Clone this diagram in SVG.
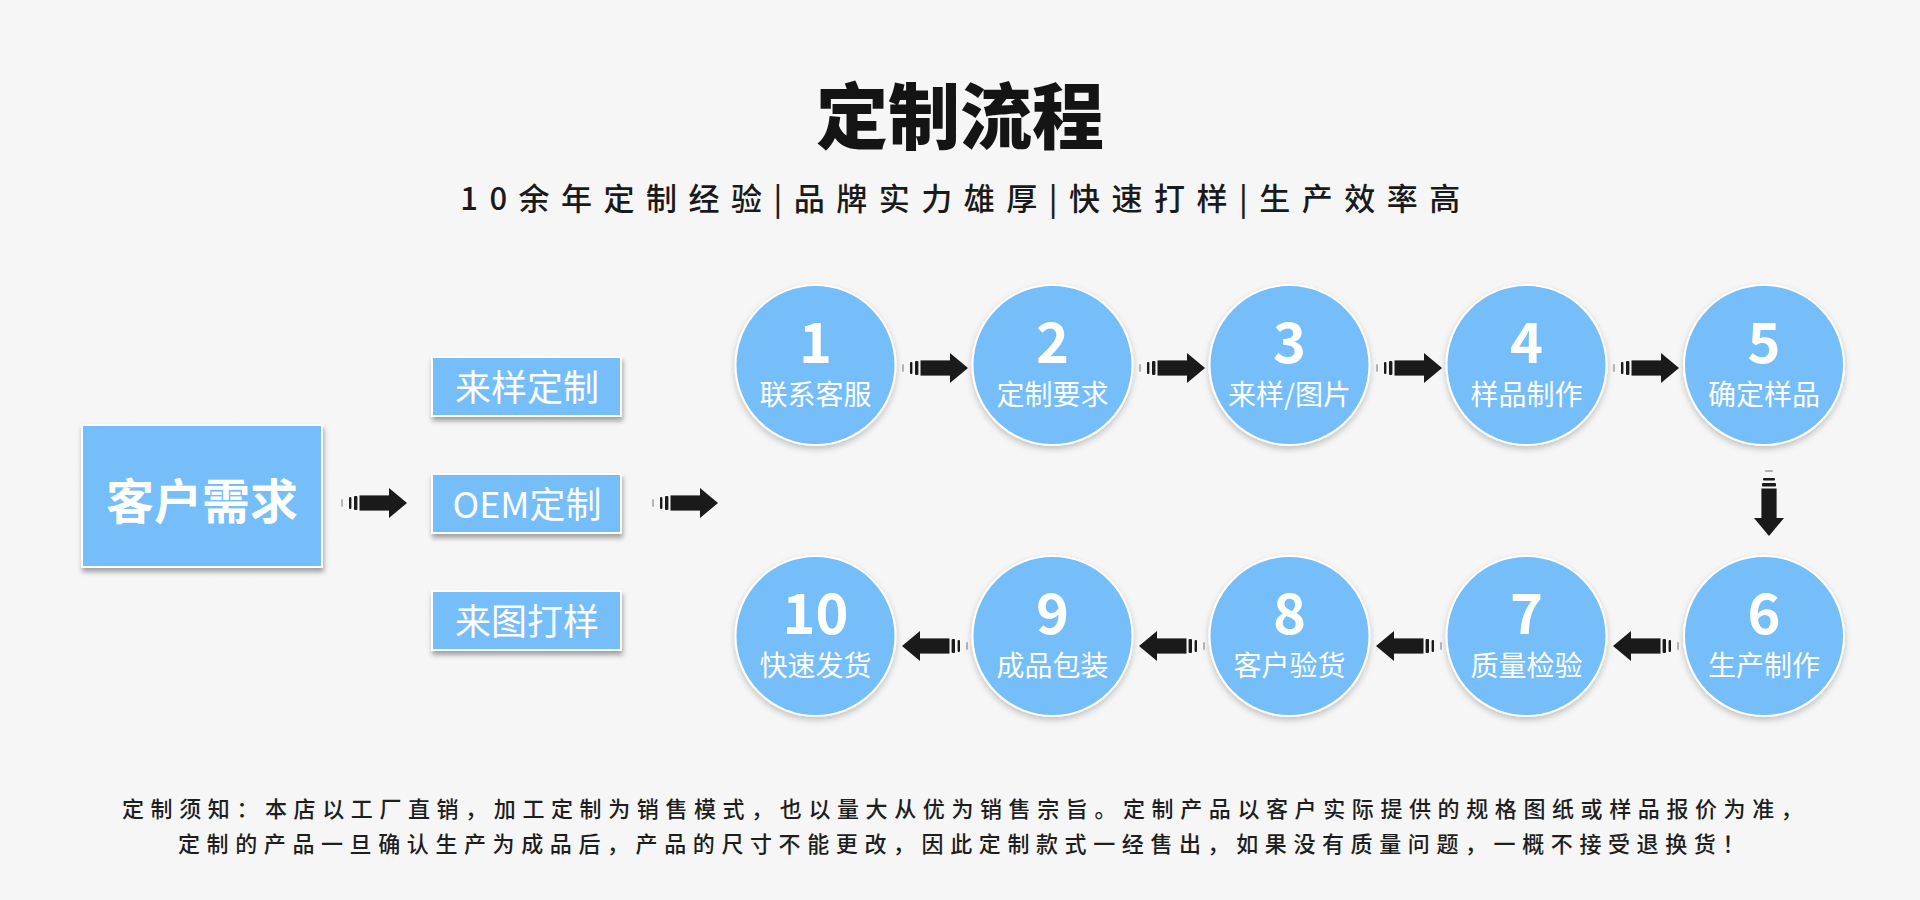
<svg xmlns="http://www.w3.org/2000/svg" xmlns:xlink="http://www.w3.org/1999/xlink" width="1920" height="900" viewBox="0 0 1920 900">
<style>
.cjk{font-family:"Noto Sans CJK SC","Noto Sans",sans-serif}
.title{font-size:72px;font-weight:900;fill:#141414}
.sub{font-size:31px;font-weight:500;fill:#1a1a1a;letter-spacing:11.5px}
.foot{font-size:22px;font-weight:500;fill:#1e1e1e;letter-spacing:6.6px}
.node{fill:#74bef9;stroke:#ffffff;stroke-width:2}
.num{font-size:56px;font-weight:bold;fill:#fff}
.lbl{font-size:28px;fill:#fff}
.boxt{font-size:36px;fill:#fff}
.bigt{font-size:48px;font-weight:bold;fill:#fff}
.arr{fill:#1a1a1a}
</style>
<defs>
<filter id="sh" x="-20%" y="-20%" width="140%" height="150%">
<feDropShadow dx="1" dy="4" stdDeviation="2.5" flood-color="#000" flood-opacity="0.35"/>
</filter>
<filter id="csh" x="-20%" y="-20%" width="140%" height="150%">
<feDropShadow dx="0" dy="3" stdDeviation="3" flood-color="#000" flood-opacity="0.22"/>
</filter>
<filter id="tex" x="0" y="0" width="100%" height="100%">
<feTurbulence type="fractalNoise" baseFrequency="0.9" numOctaves="2" seed="3"/>
<feColorMatrix type="matrix" values="0 0 0 0 0.5  0 0 0 0 0.5  0 0 0 0 0.5  0 0 0 0.03 0"/>
</filter>
<g id="arr">
<rect x="0.3" y="-4" width="1.4" height="8" rx="0.7" fill="#9a9a9a"/>
<rect x="8" y="-6" width="2.4" height="12" rx="1" class="arr"/>
<rect x="13" y="-7" width="3.4" height="14" rx="1" class="arr"/>
<rect x="18.5" y="-7.6" width="30" height="15.2" class="arr"/>
<polygon points="48,-15 66,0 48,15" class="arr"/>
</g>
</defs>
<rect width="1920" height="900" fill="#f7f7f7"/>
<rect width="1920" height="900" filter="url(#tex)"/>

<g id="header" class="cjk">
<text class="title" x="960" y="143" text-anchor="middle">定制流程</text>
<text class="sub" x="966" y="210" text-anchor="middle">10余年定制经验|品牌实力雄厚|快速打样|生产效率高</text>
</g>

<g id="connectors">
<use xlink:href="#arr" transform="translate(341,503)"/>
<use xlink:href="#arr" transform="translate(652,503)"/>
<use xlink:href="#arr" transform="translate(902,368)"/>
<use xlink:href="#arr" transform="translate(1139,368)"/>
<use xlink:href="#arr" transform="translate(1376,368)"/>
<use xlink:href="#arr" transform="translate(1613,368)"/>
<use xlink:href="#arr" transform="translate(1769,470) rotate(90)"/>
<use xlink:href="#arr" transform="translate(1679,646) scale(-1,1)"/>
<use xlink:href="#arr" transform="translate(1442,646) scale(-1,1)"/>
<use xlink:href="#arr" transform="translate(1205,646) scale(-1,1)"/>
<use xlink:href="#arr" transform="translate(968,646) scale(-1,1)"/>
</g>

<g id="demand" class="cjk">
<rect x="82" y="425" width="240" height="142" class="node" filter="url(#sh)"/>
<text class="bigt" x="202" y="519" text-anchor="middle">客户需求</text>
</g>
<g id="opt1" class="cjk">
<rect x="432" y="357" width="189" height="59" class="node" filter="url(#sh)"/>
<text class="boxt" x="527" y="401" text-anchor="middle">来样定制</text>
</g>
<g id="opt2" class="cjk">
<rect x="432" y="474" width="189" height="59" class="node" filter="url(#sh)"/>
<text class="boxt" x="527" y="518" text-anchor="middle">OEM定制</text>
</g>
<g id="opt3" class="cjk">
<rect x="432" y="591" width="189" height="59" class="node" filter="url(#sh)"/>
<text class="boxt" x="527" y="635" text-anchor="middle">来图打样</text>
</g>

<g id="step1" class="cjk"><circle cx="815.5" cy="365" r="80" class="node" filter="url(#csh)"/><text class="num" x="815.5" y="363" text-anchor="middle">1</text><text class="lbl" x="815.5" y="405" text-anchor="middle">联系客服</text></g>
<g id="step2" class="cjk"><circle cx="1052.5" cy="365" r="80" class="node" filter="url(#csh)"/><text class="num" x="1052.5" y="363" text-anchor="middle">2</text><text class="lbl" x="1052.5" y="405" text-anchor="middle">定制要求</text></g>
<g id="step3" class="cjk"><circle cx="1289.5" cy="365" r="80" class="node" filter="url(#csh)"/><text class="num" x="1289.5" y="363" text-anchor="middle">3</text><text class="lbl" x="1289.5" y="405" text-anchor="middle">来样/图片</text></g>
<g id="step4" class="cjk"><circle cx="1526.5" cy="365" r="80" class="node" filter="url(#csh)"/><text class="num" x="1526.5" y="363" text-anchor="middle">4</text><text class="lbl" x="1526.5" y="405" text-anchor="middle">样品制作</text></g>
<g id="step5" class="cjk"><circle cx="1764" cy="365" r="80" class="node" filter="url(#csh)"/><text class="num" x="1764" y="363" text-anchor="middle">5</text><text class="lbl" x="1764" y="405" text-anchor="middle">确定样品</text></g>
<g id="step6" class="cjk"><circle cx="1764" cy="636" r="80" class="node" filter="url(#csh)"/><text class="num" x="1764" y="634" text-anchor="middle">6</text><text class="lbl" x="1764" y="676" text-anchor="middle">生产制作</text></g>
<g id="step7" class="cjk"><circle cx="1526.5" cy="636" r="80" class="node" filter="url(#csh)"/><text class="num" x="1526.5" y="634" text-anchor="middle">7</text><text class="lbl" x="1526.5" y="676" text-anchor="middle">质量检验</text></g>
<g id="step8" class="cjk"><circle cx="1289.5" cy="636" r="80" class="node" filter="url(#csh)"/><text class="num" x="1289.5" y="634" text-anchor="middle">8</text><text class="lbl" x="1289.5" y="676" text-anchor="middle">客户验货</text></g>
<g id="step9" class="cjk"><circle cx="1052.5" cy="636" r="80" class="node" filter="url(#csh)"/><text class="num" x="1052.5" y="634" text-anchor="middle">9</text><text class="lbl" x="1052.5" y="676" text-anchor="middle">成品包装</text></g>
<g id="step10" class="cjk"><circle cx="815.5" cy="636" r="80" class="node" filter="url(#csh)"/><text class="num" x="815.5" y="634" text-anchor="middle">10</text><text class="lbl" x="815.5" y="676" text-anchor="middle">快速发货</text></g>

<g id="footer" class="cjk">
<text class="foot" x="122" y="817">定制须知：本店以工厂直销，加工定制为销售模式，也以量大从优为销售宗旨。定制产品以客户实际提供的规格图纸或样品报价为准，</text>
<text class="foot" x="178" y="852">定制的产品一旦确认生产为成品后，产品的尺寸不能更改，因此定制款式一经售出，如果没有质量问题，一概不接受退换货！</text>
</g>
</svg>
